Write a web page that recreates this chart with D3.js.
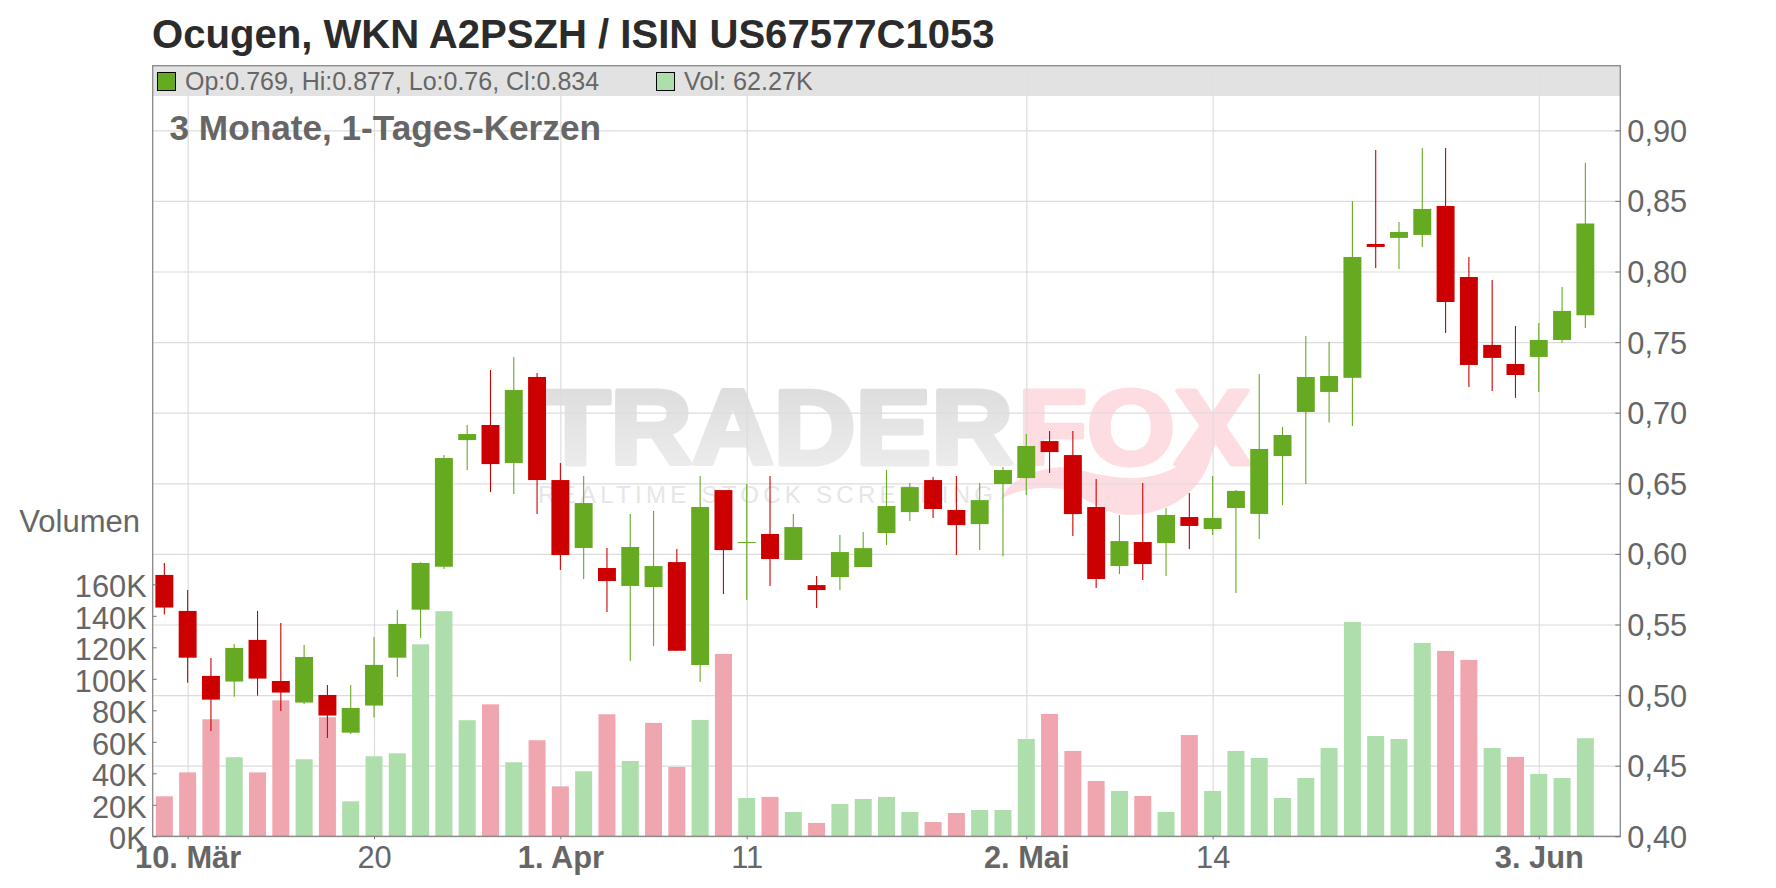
<!DOCTYPE html>
<html>
<head>
<meta charset="utf-8">
<script src="https://cdn.jsdelivr.net/npm/d3@7"></script>
<style>
  html, body { margin: 0; background: #fff; }
  svg { display: block; }
  text { font-family: "Liberation Sans", Arial, sans-serif; }
  .axis text { fill: #666; font-size: 30.8px; }
  .axis line { stroke: #777; }
  .axis path { display: none; }
  .grid line { stroke: #dcdcdc; stroke-width: 1.2; }
  .grid path, .grid text { display: none; }
</style>
</head>
<body>
<script>
const opens = [.5851,.5596,.5136,.5096,.5391,.5100,.4947,.5001,.4734,.4926,.5265,.5605,.5909,.6806,.6913,.6644,.7253,.6523,.6042,.5900,.5773,.5765,.5942,.5213,.6452,.6080,.6141,.5957,.5779,.5836,.5907,.6148,.6296,.6523,.6311,.6211,.6495,.6537,.6799,.6700,.6332,.5914,.6084,.6077,.6261,.6176,.6325,.6283,.6693,.7005,.7147,.7247,.8195,.8238,.8259,.8464,.7961,.7480,.7345,.7395,.7515,.769]
const highs = [.5936,.5745,.5263,.5362,.5596,.5511,.5355,.5072,.5072,.5412,.5603,.5941,.6700,.6913,.7302,.7395,.7281,.6644,.6551,.6042,.6282,.6304,.6034,.6551,.6452,.6495,.6551,.6282,.5843,.6134,.6155,.6594,.6502,.6544,.6551,.6502,.6615,.6849,.6870,.6870,.6530,.6275,.6502,.6325,.6431,.6552,.6453,.7274,.6899,.7544,.7501,.8500,.8861,.8351,.8875,.8875,.8103,.7940,.7614,.7636,.7891,.877]
const lows = [.5570,.5088,.4746,.4989,.4996,.4888,.4937,.4697,.4725,.4841,.5129,.5405,.5893,.6594,.6438,.6424,.6282,.5886,.5822,.5588,.5242,.5347,.5314,.5092,.5716,.5673,.5772,.5957,.5617,.5744,.5907,.6063,.6233,.6254,.5992,.6027,.5984,.6417,.6573,.6126,.5758,.5857,.5815,.5844,.6035,.6134,.5723,.6106,.6346,.6495,.6930,.6906,.8025,.8018,.8174,.7565,.7182,.7154,.7105,.7147,.7494,.76]
const closes = [.5620,.5265,.4968,.5334,.5117,.5018,.5270,.4855,.4909,.5214,.5504,.5936,.6679,.6849,.6636,.7161,.6523,.5992,.6360,.5808,.6049,.5914,.5314,.6332,.6027,.6084,.5964,.6190,.5744,.6013,.6041,.6339,.6473,.6318,.6204,.6381,.6594,.6764,.6721,.6282,.5822,.6091,.5928,.6276,.6198,.6254,.6446,.6743,.6842,.7253,.7260,.8103,.8174,.8280,.8443,.7784,.7338,.7388,.7267,.7515,.7721,.834]
// volume in thousands
const volume = [25.4,40.6,74.3,50.2,40.6,86.3,48.9,75.6,22.2,50.8,52.7,121.9,142.9,73.7,83.8,47,61,31.7,41.3,77.5,47.8,72,44,73.9,115.8,24.3,25,15.4,8.5,20.5,23.7,25,15.4,9.1,14.8,16.7,16.7,61.8,77.7,54.2,35.1,28.8,25.6,15.4,64.3,28.8,54.2,49.7,24.3,37,56.1,136.1,63.7,61.8,122.8,117.7,112,56.1,50.4,39.6,37,62.27]

const tickDays = [1, 9, 17, 25, 37, 45, 59]
const tickLabels = ['10. Mär', '20', '1. Apr', '11', '2. Mai', '14', '3. Jun']
const priceTicks = [.40, .45, .50, .55, .60, .65, .70, .75, .80, .85, .90]
const volumeTicks = [0, 20, 40, 60, 80, 100, 120, 140, 160]

const green = '#66aa22'
const red = '#cc0000'
const lightGreen = '#addeab'
const pink = '#efa6af'
const textGrey = '#666'

const margin = { top: 65.7, right: 155.7, bottom: 51.7, left: 152.7 }
const chartWidth = 1776
const chartHeight = 888
const plotLeft = margin.left
const plotRight = chartWidth - margin.right
const plotTop = margin.top
const plotBottom = chartHeight - margin.bottom

const x = d3.scaleLinear().domain([-0.5, 62.5]).range([plotLeft, plotRight])
const y = d3.scaleLinear().domain([.40, .90]).range([plotBottom, 130.3])
const v = d3.scaleLinear().domain([0, 160]).range([plotBottom, 584.3])
const step = x(1) - x(0)

const svg = d3.select('body').append('svg')
  .attr('width', chartWidth)
  .attr('height', chartHeight)

// watermark
const defs = svg.append('defs')
const fade = defs.append('linearGradient')
  .attr('id', 'fade')
  .attr('x1', 0).attr('y1', 0).attr('x2', 0).attr('y2', 1)
fade.append('stop').attr('offset', '0%').attr('stop-color', '#dadada')
fade.append('stop').attr('offset', '100%').attr('stop-color', '#efefef')

const logo = svg.append('g').classed('logo', true)
logo.append('text')
  .attr('x', 541).attr('y', 464)
  .attr('textLength', 472).attr('lengthAdjust', 'spacingAndGlyphs')
  .attr('font-size', 106).attr('font-weight', 'bold')
  .attr('fill', 'url(#fade)')
  .attr('stroke', 'url(#fade)')
  .attr('stroke-width', 5)
  .attr('stroke-linejoin', 'round')
  .text('TRADER')
logo.append('text')
  .attr('x', 1018).attr('y', 464)
  .attr('textLength', 232).attr('lengthAdjust', 'spacingAndGlyphs')
  .attr('font-size', 106).attr('font-weight', 'bold')
  .attr('fill', '#fddde2')
  .attr('stroke', '#fddde2')
  .attr('stroke-width', 5)
  .attr('stroke-linejoin', 'round')
  .text('FOX')
logo.append('path')
  .attr('d', 'M1255,387C1230,400 1222,425 1209,463C1195,500 1160,515 1128,515C1105,515 1090,500 1066,490C1040,485 1015,490 1000,500C1010,480 1030,470 1061,467C1085,470 1105,478 1133,478C1170,478 1200,455 1214,430C1222,410 1235,395 1255,387Z')
  .attr('fill', '#fddde2')
logo.append('text')
  .attr('x', 538).attr('y', 503)
  .attr('textLength', 455).attr('lengthAdjust', 'spacing')
  .attr('font-size', 24)
  .attr('fill', '#e6e6e6')
  .text('REALTIME STOCK SCREENING')

// grid
svg.append('g')
  .classed('grid', true)
  .attr('transform', `translate(${plotLeft}, 0)`)
  .call(d3.axisLeft(y).tickValues(priceTicks).tickSize(plotLeft - plotRight))
svg.append('g')
  .classed('grid', true)
  .attr('transform', `translate(0, ${plotBottom})`)
  .call(d3.axisBottom(x).tickValues(tickDays).tickSize(plotTop - plotBottom))

// header band
svg.append('rect')
  .attr('x', plotLeft).attr('y', plotTop)
  .attr('width', plotRight - plotLeft).attr('height', 30.3)
  .attr('fill', '#dfdfdf')
  .attr('fill-opacity', 0.92)

// volume
svg.append('g').selectAll('rect').data(volume)
  .enter().append('rect')
    .attr('x', (d, i) => x(i) - step * 0.365)
    .attr('y', d => v(d))
    .attr('width', step * 0.73)
    .attr('height', d => plotBottom - v(d))
    .attr('fill', (d, i) => i > 0 && closes[i] > closes[i - 1] ? lightGreen : pink)

// candles
const candles = svg.append('g').selectAll('g').data(d3.range(closes.length))
  .enter().append('g')
    .attr('fill', i => closes[i] >= opens[i] ? green : red)
    .attr('stroke', i => closes[i] >= opens[i] ? green : red)
candles.append('line')
  .attr('x1', i => x(i)).attr('x2', i => x(i))
  .attr('y1', i => y(highs[i])).attr('y2', i => y(lows[i]))
  .attr('stroke-width', 1.1)
candles.append('rect')
  .attr('x', i => x(i) - step * 0.385)
  .attr('y', i => y(Math.max(opens[i], closes[i])))
  .attr('width', step * 0.77)
  .attr('height', i => Math.max(Math.abs(y(opens[i]) - y(closes[i])), 1))
  .attr('stroke', 'none')

// frame
svg.append('rect')
  .attr('x', plotLeft).attr('y', plotTop)
  .attr('width', plotRight - plotLeft).attr('height', plotBottom - plotTop)
  .attr('fill', 'none')
  .attr('stroke', '#888')
  .attr('stroke-width', 1.3)

// axes
svg.append('g')
  .classed('axis', true)
  .attr('transform', `translate(${plotRight}, 0)`)
  .call(d3.axisRight(y)
    .tickValues(priceTicks)
    .tickSize(-5)
    .tickPadding(7)
    .tickFormat(d => d3.format('.2f')(d).replace('.', ',')))
  .selectAll('text')
    .attr('dy', '0.36em')
svg.append('g')
  .classed('axis', true)
  .attr('transform', `translate(${plotLeft}, 0)`)
  .call(d3.axisLeft(v)
    .tickValues(volumeTicks)
    .tickSize(-4)
    .tickPadding(6)
    .tickFormat(d => `${d}K`))
  .selectAll('text')
    .attr('dy', '0.4em')
svg.append('g')
  .classed('axis', true)
  .attr('transform', `translate(0, ${plotBottom})`)
  .call(d3.axisBottom(x)
    .tickValues(tickDays)
    .tickSize(3)
    .tickPadding(7)
    .tickFormat((d, i) => tickLabels[i]))
  .selectAll('text')
    .attr('font-weight', (d, i) => tickLabels[i].includes('.') ? 'bold' : null)

// labels
svg.append('text')
  .attr('x', 152).attr('y', 47.5)
  .attr('font-size', 40.1).attr('font-weight', 'bold').attr('fill', '#2b2b2b')
  .text('Ocugen, WKN A2PSZH / ISIN US67577C1053')
svg.append('text')
  .attr('x', 169.5).attr('y', 140)
  .attr('font-size', 35.2).attr('font-weight', 'bold').attr('fill', textGrey)
  .text('3 Monate, 1-Tages-Kerzen')
svg.append('text')
  .attr('x', 140).attr('y', 532)
  .attr('text-anchor', 'end')
  .attr('font-size', 31).attr('fill', textGrey)
  .text('Volumen')

// legend
svg.append('rect')
  .attr('x', 157.5).attr('y', 72.5).attr('width', 18).attr('height', 18)
  .attr('fill', green).attr('stroke', '#000')
svg.append('text')
  .attr('x', 185).attr('y', 90)
  .attr('font-size', 25).attr('fill', textGrey)
  .text(`Op:${opens[61]}, Hi:${highs[61]}, Lo:${lows[61]}, Cl:${closes[61]}`)
svg.append('rect')
  .attr('x', 656.5).attr('y', 72.5).attr('width', 18).attr('height', 18)
  .attr('fill', lightGreen).attr('stroke', '#000')
svg.append('text')
  .attr('x', 684).attr('y', 90)
  .attr('font-size', 25.2).attr('fill', textGrey)
  .text(`Vol: ${volume[61]}K`)
</script>
</body>
</html>
